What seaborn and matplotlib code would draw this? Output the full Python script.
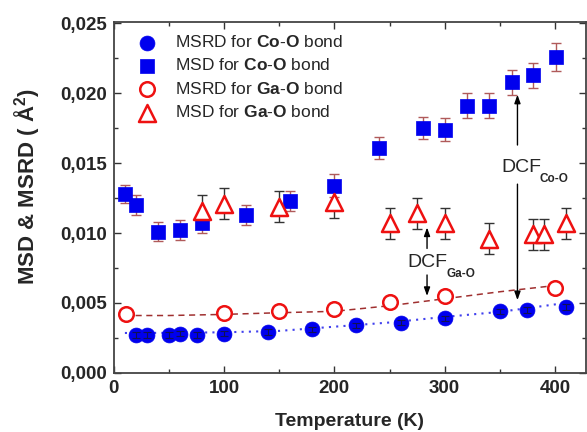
import matplotlib
matplotlib.use("Agg")
import matplotlib.pyplot as plt
import seaborn as sns
import pandas as pd
from matplotlib.ticker import MultipleLocator, FuncFormatter

# ---- data ----
msrd_co_T = [20, 30, 50, 60, 75, 100, 140, 180, 220, 260, 300, 350, 375, 410]
msrd_co_v = [0.0027, 0.0027, 0.0027, 0.0028, 0.0027, 0.0028, 0.0029, 0.0031,
             0.0034, 0.0036, 0.0039, 0.0044, 0.0045, 0.0047]
msrd_co_e = [0.0002] * len(msrd_co_T)

msd_co_T = [10, 20, 40, 60, 80, 120, 160, 200, 240, 280, 300, 320, 340, 361, 380, 401]
msd_co_v = [0.0128, 0.0120, 0.0101, 0.0102, 0.0107, 0.0113, 0.0123, 0.0134,
            0.0161, 0.0175, 0.0174, 0.0191, 0.0191, 0.0208, 0.0213, 0.0226]
msd_co_e = [0.00065, 0.0007, 0.0007, 0.0007, 0.0007, 0.0007, 0.0007, 0.0008,
            0.0008, 0.0008, 0.0008, 0.0009, 0.0009, 0.0009, 0.0009, 0.0010]

msrd_ga_T = [11, 100, 150, 200, 250, 300, 400]
msrd_ga_v = [0.0042, 0.0043, 0.0044, 0.0046, 0.0051, 0.0055, 0.0061]

msd_ga_T = [80, 100, 150, 200, 250, 275, 300, 340, 380, 390, 410]
msd_ga_v = [0.0116, 0.0121, 0.0119, 0.0122, 0.0107, 0.0114, 0.0107, 0.0096,
            0.0099, 0.0099, 0.0107]
msd_ga_e = [0.0011] * len(msd_ga_T)

fit_ga_T = [10, 50, 100, 150, 200, 250, 300, 350, 395]
fit_ga_v = [0.0041, 0.0041, 0.00418, 0.0043, 0.0044, 0.0048, 0.0053, 0.0058, 0.0062]
fit_co_T = [10, 50, 100, 150, 200, 250, 300, 350, 410]
fit_co_v = [0.00285, 0.00286, 0.0029, 0.0030, 0.0033, 0.0036, 0.0040, 0.00436, 0.0050]

x_ticks = [0, 100, 200, 300, 400]
y_ticks = [0.000, 0.005, 0.010, 0.015, 0.020, 0.025]

# ---- style ----
sns.set_style("ticks")
plt.rcParams['font.family'] = ['Liberation Sans', 'DejaVu Sans']
plt.rcParams['mathtext.fontset'] = 'custom'
plt.rcParams['mathtext.rm'] = 'Liberation Sans'
plt.rcParams['mathtext.bf'] = 'Liberation Sans:bold'
plt.rcParams['mathtext.it'] = 'Liberation Sans:italic'

fig = plt.figure(figsize=(5.87, 4.32), dpi=100)
ax = fig.add_axes([0.194, 0.137, 0.804, 0.812])

blue = '#0000ee'
red = '#ee1111'
cap_red = '#b05a5a'
dark = '#333333'

# fit lines
sns.lineplot(x=fit_ga_T, y=fit_ga_v, ax=ax, color='#a03030', linestyle=(0, (4, 3)),
             linewidth=1.1, zorder=1)
sns.lineplot(x=fit_co_T, y=fit_co_v, ax=ax, color='#4040ee', linestyle=(0, (1, 2.5)),
             linewidth=1.5, zorder=1)

# error bars
ax.errorbar(msd_co_T, msd_co_v, yerr=msd_co_e, fmt='none', ecolor=cap_red,
            elinewidth=1.0, capsize=3.5, capthick=1.0, zorder=2)
ax.errorbar(msd_ga_T, msd_ga_v, yerr=msd_ga_e, fmt='none', ecolor=dark,
            elinewidth=1.0, capsize=3.5, capthick=1.0, zorder=2)

# markers
sns.scatterplot(x=msrd_co_T, y=msrd_co_v, ax=ax, marker='o', s=115,
                color=blue, edgecolor=blue, linewidth=0.5, zorder=3,
                label=r"MSRD for $\mathbf{Co}$-$\mathbf{O}$ bond")
ax.errorbar(msrd_co_T, msrd_co_v, yerr=msrd_co_e, fmt='none', ecolor='#111155',
            elinewidth=0.8, capsize=3, capthick=0.8, zorder=4)
sns.scatterplot(x=msd_co_T, y=msd_co_v, ax=ax, marker='s', s=105,
                color=blue, edgecolor=blue, linewidth=0.5, zorder=3,
                label=r"MSD for $\mathbf{Co}$-$\mathbf{O}$ bond")
sns.scatterplot(x=msrd_ga_T, y=msrd_ga_v, ax=ax, marker='o', s=110,
                facecolor='white', edgecolor=red, linewidth=1.8, zorder=3,
                label=r"MSRD for $\mathbf{Ga}$-$\mathbf{O}$ bond")
sns.scatterplot(x=msd_ga_T, y=msd_ga_v, ax=ax, marker='^', s=150,
                facecolor='white', edgecolor=red, linewidth=1.8, zorder=3,
                label=r"MSD for $\mathbf{Ga}$-$\mathbf{O}$ bond")

# annotations
arrow_kw = dict(arrowstyle='-|>,head_length=0.5,head_width=0.18', color='black', lw=1.0,
                shrinkA=0, shrinkB=0)
ax.annotate('', xy=(284, 0.0104), xytext=(284, 0.0089), arrowprops=arrow_kw)
ax.annotate('', xy=(284, 0.0055), xytext=(284, 0.0070), arrowprops=arrow_kw)
ax.text(266, 0.0079, 'DCF', fontsize=14, ha='left', va='center')
ax.text(302, 0.0071, 'Ga-O', fontsize=8.5, fontweight='bold', ha='left', va='center')

ax.annotate('', xy=(366, 0.0199), xytext=(366, 0.0163), arrowprops=arrow_kw)
ax.annotate('', xy=(366, 0.0052), xytext=(366, 0.0135), arrowprops=arrow_kw)
ax.text(351, 0.0147, 'DCF', fontsize=14, ha='left', va='center')
ax.text(386, 0.0139, 'Co-O', fontsize=8.5, fontweight='bold', ha='left', va='center')

# axes
ax.set_xlim(0, 428)
ax.set_ylim(0, 0.0251)
ax.set_xticks(x_ticks)
ax.set_yticks(y_ticks)
ax.xaxis.set_minor_locator(MultipleLocator(50))
ax.yaxis.set_minor_locator(MultipleLocator(0.0025))
ax.yaxis.set_major_formatter(FuncFormatter(lambda v, p: f"{v:.3f}".replace('.', ',')))
ax.tick_params(which='both', direction='in', top=True, right=True, width=1.0, color='#333333')
ax.tick_params(which='major', length=5, labelsize=13.5, pad=5)
ax.tick_params(which='minor', length=3)
for lab in ax.get_xticklabels() + ax.get_yticklabels():
    lab.set_fontweight('bold')
for sp in ax.spines.values():
    sp.set_linewidth(1.3)
    sp.set_color('#444444')

ax.set_xlabel('Temperature (K)', fontsize=14, fontweight='bold', labelpad=12)
ax.set_ylabel(r'MSD & MSRD ( Å$^\mathbf{2}$)', fontsize=16, fontweight='bold')
ax.yaxis.set_label_coords(-0.152, 0.53)

ax.legend(loc='upper left', bbox_to_anchor=(0.025, 0.995), frameon=False, fontsize=12.5,
          handletextpad=1.05, labelspacing=0.42, borderaxespad=0.2, handlelength=1.2)

fig.savefig('out.png', dpi=100)
